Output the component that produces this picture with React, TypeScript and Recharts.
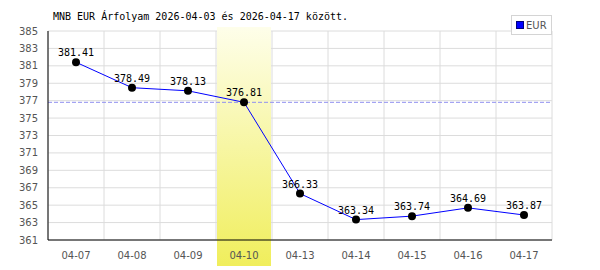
import {
  LineChart,
  Line,
  XAxis,
  YAxis,
  CartesianGrid,
  ReferenceArea,
  ReferenceLine,
  LabelList,
} from 'recharts';

const dates = ['04-07', '04-08', '04-09', '04-10', '04-13', '04-14', '04-15', '04-16', '04-17'];
const eurRates = [381.41, 378.49, 378.13, 376.81, 366.33, 363.34, 363.74, 364.69, 363.87];
const yTicks = [361, 363, 365, 367, 369, 371, 373, 375, 377, 379, 381, 383, 385];
const highlightDate = '04-10';
const highlightRate = 376.81;
const title = 'MNB EUR Árfolyam 2026-04-03 és 2026-04-17 között.';
const seriesName = 'EUR';

const data = dates.map((d, i) => ({ date: d, EUR: eurRates[i] }));

const mono = '"DejaVu Sans Mono", "Liberation Mono", monospace';
const sans = '"DejaVu Sans", "Liberation Sans", sans-serif';

// yellow band that runs from the plot top down through the tick label
function Band(props: any) {
  const { x, y, width, height } = props;
  return <rect x={x + 1} y={y - 4} width={width - 2} height={height + 30} fill="url(#bandGrad)" />;
}

export default function App() {
  return (
    <div style={{ position: 'absolute', left: 0, top: 0, width: 600, height: 270, background: '#fff' }}>
      <LineChart width={600} height={270} data={data} margin={{ top: 31, right: 48, left: 8, bottom: 0 }}>
        <defs>
          <linearGradient id="bandGrad" x1="0" y1="0" x2="0" y2="1">
            <stop offset="0%" stopColor="#fefeea" />
            <stop offset="100%" stopColor="#f0ee5c" />
          </linearGradient>
        </defs>
        <ReferenceArea
          x1={highlightDate}
          x2={highlightDate}
          ifOverflow="visible"
          shape={<Band />}
        />
        <CartesianGrid
          stroke="#dcdcdc"
          verticalCoordinatesGenerator={({ offset }: any) =>
            Array.from({ length: dates.length + 1 }, (_, i) => offset.left + (i * offset.width) / dates.length)
          }
        />
        <XAxis
          dataKey="date"
          scale="band"
          stroke="#000"
          tickLine={false}
          height={30}
          tick={{ fill: '#555', fontSize: 10, fontFamily: sans }}
          tickMargin={6}
        />
        <YAxis
          domain={[361, 385]}
          ticks={yTicks}
          width={40}
          stroke="#000"
          tickLine={false}
          tick={{ fill: '#555', fontSize: 10, fontFamily: sans }}
          tickMargin={4}
          interval={0}
        />
        <ReferenceLine y={highlightRate} stroke="#9090f0" strokeDasharray="4 2" />
        <Line
          type="linear"
          dataKey="EUR"
          stroke="#0000ff"
          strokeWidth={1}
          dot={{ r: 4, fill: '#000', stroke: '#000', strokeWidth: 0 }}
          activeDot={false}
          isAnimationActive={false}
        >
          <LabelList dataKey="EUR" position="top" offset={6} fill="#000" fontSize={10} fontFamily={mono} />
        </Line>
      </LineChart>
      <div
        style={{
          position: 'absolute',
          left: 53,
          top: 11,
          fontFamily: mono,
          fontSize: 10,
          color: '#000',
          whiteSpace: 'pre',
        }}
      >
        {title}
      </div>
      <div
        style={{
          position: 'absolute',
          left: 511,
          top: 15,
          border: '1px solid #d4d4d4',
          background: '#fff',
          width: 41,
          height: 20,
          display: 'flex',
          alignItems: 'center',
          fontFamily: sans,
          fontSize: 10,
          color: '#555',
          boxSizing: 'border-box',
          paddingLeft: 4,
        }}
      >
        <span
          style={{
            display: 'inline-block',
            width: 6,
            height: 6,
            background: '#0000ff',
            border: '1px solid #000080',
            marginRight: 2,
          }}
        />
        {seriesName}
      </div>
    </div>
  );
}
